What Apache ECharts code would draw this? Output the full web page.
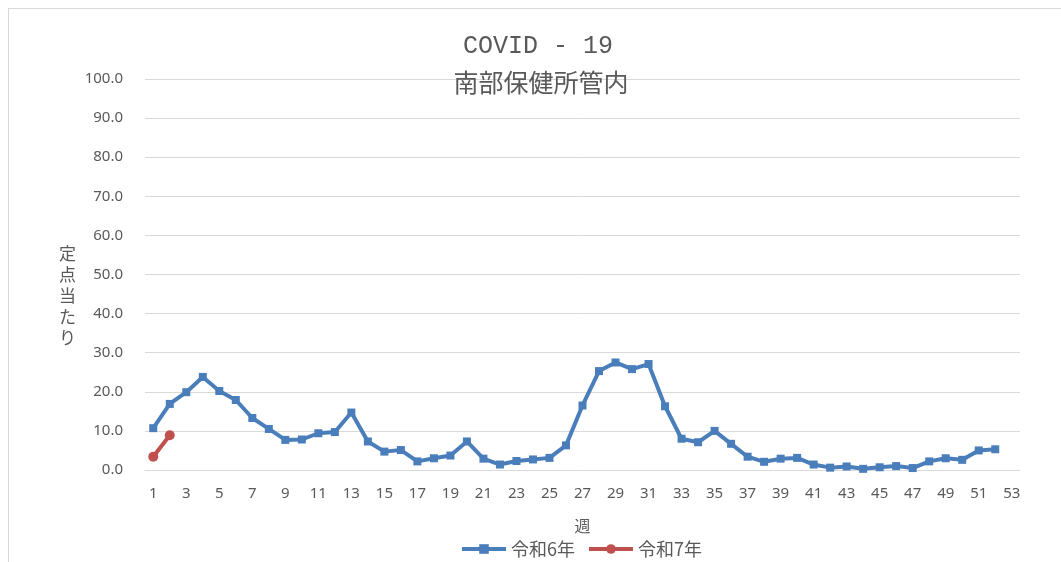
<!DOCTYPE html>
<html>
<head>
<meta charset="utf-8">
<script src="https://cdn.jsdelivr.net/npm/echarts@6/dist/echarts.min.js"></script>
<style>
  html, body { margin: 0; padding: 0; background: #fff; }
  #frame { position: absolute; left: 8px; top: 8px; width: 1053px; height: 554px;
           border-left: 1px solid #d9d9d9; border-top: 1px solid #d9d9d9; }
  #main { position: absolute; left: 0; top: 0; width: 1061px; height: 562px; }
</style>
</head>
<body>
<div id="frame"></div>
<div id="main"></div>
<script>
// 週 1..53
var weeks = []
for (var i = 1; i <= 53; i++) weeks.push(String(i))

// 令和6年 定点当たり
var r6 = [10.7, 16.9, 19.9, 23.8, 20.2, 17.9, 13.3, 10.5, 7.7, 7.8,
          9.4, 9.7, 14.7, 7.3, 4.7, 5.1, 2.2, 3.0, 3.7, 7.3,
          2.9, 1.4, 2.3, 2.7, 3.1, 6.3, 16.5, 25.3, 27.5, 25.8,
          27.1, 16.3, 8.0, 7.1, 10.0, 6.7, 3.4, 2.1, 2.9, 3.1,
          1.4, 0.6, 0.9, 0.3, 0.7, 1.0, 0.5, 2.2, 3.0, 2.6,
          5.0, 5.3]
// 令和7年
var r7 = [3.4, 8.9]

var main = document.getElementById('main')
var myChart = echarts.init(main)
var option = {
    animation: false,
    title: [
        {
            text: 'COVID - 19',
            left: 533,
            top: 29,
            textAlign: 'center',
            textStyle: { fontFamily: 'Liberation Mono', fontSize: 25, fontWeight: 'normal', color: '#595959' }
        },
        {
            text: '南部保健所管内',
            left: 536,
            top: 65,
            textAlign: 'center',
            textStyle: { fontFamily: 'Noto Sans CJK JP', fontSize: 25, fontWeight: 'normal', color: '#595959' }
        }
    ],
    legend: {
        bottom: -1,
        left: 455,
        itemWidth: 44,
        itemHeight: 12,
        itemGap: 12,
        lineStyle: { width: 4 },
        textStyle: { fontFamily: 'Noto Sans CJK JP', fontSize: 18, color: '#595959' },
        data: ['令和6年', '令和7年']
    },
    grid: { left: 145, right: 41, top: 79, bottom: 92 },
    xAxis: {
        type: 'category',
        data: weeks,
        boundaryGap: true,
        name: '週',
        nameLocation: 'middle',
        nameGap: 48,
        nameTextStyle: { fontFamily: 'Noto Sans CJK JP', fontSize: 16, color: '#595959' },
        axisLine: { lineStyle: { color: '#d9d9d9' } },
        axisTick: { show: false },
        axisLabel: { interval: 1, fontSize: 15, color: '#595959', margin: 16, fontFamily: 'Noto Sans' }
    },
    yAxis: {
        type: 'value',
        min: 0,
        max: 100,
        interval: 10,
        // 先頭の空行で少し下へずらす
        name: '\n\n定\n点\n当\nた\nり',
        nameLocation: 'middle',
        nameRotate: 0,
        nameGap: 69,
        nameTextStyle: { fontFamily: 'Noto Sans CJK JP', fontSize: 17, color: '#595959', lineHeight: 21 },
        axisLine: { show: false },
        axisTick: { show: false },
        splitLine: { lineStyle: { color: '#d9d9d9', width: 1 } },
        axisLabel: {
            fontSize: 15, color: '#595959', margin: 22, fontFamily: 'Noto Sans',
            formatter: function (v) { return v.toFixed(1) }
        }
    },
    series: [
        {
            name: '令和6年',
            type: 'line',
            data: r6,
            symbol: 'rect',
            symbolSize: 8,
            lineStyle: { width: 4, color: '#4a7ebb' },
            itemStyle: { color: '#4a7ebb' }
        },
        {
            name: '令和7年',
            type: 'line',
            data: r7,
            symbol: 'circle',
            symbolSize: 10,
            lineStyle: { width: 4, color: '#c0504d' },
            itemStyle: { color: '#c0504d' }
        }
    ]
}
myChart.setOption(option)
</script>
</body>
</html>
